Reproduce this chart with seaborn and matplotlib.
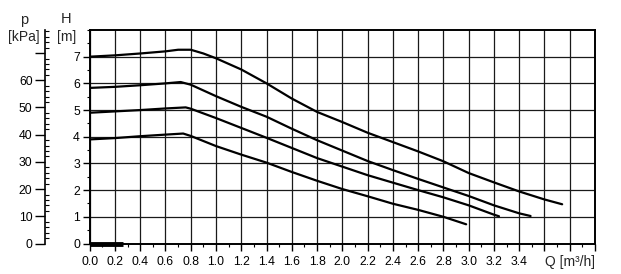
import numpy as np
import pandas as pd
import matplotlib
matplotlib.use("Agg")
import matplotlib.pyplot as plt
import seaborn as sns
from matplotlib.ticker import MultipleLocator, FixedLocator

# ---- data (Q in m3/h, H in m) ----
q1 = [0, 0.2, 0.4, 0.6, 0.7, 0.8, 0.9, 1.0, 1.2, 1.4, 1.6, 1.8, 2.0, 2.2, 2.4, 2.6, 2.8, 3.0, 3.2, 3.4, 3.6, 3.74]
h1 = [7.0, 7.05, 7.12, 7.2, 7.26, 7.26, 7.12, 6.94, 6.52, 6.0, 5.43, 4.93, 4.55, 4.15, 3.8, 3.45, 3.08, 2.64, 2.29, 1.95, 1.65, 1.47]

q2 = [0, 0.2, 0.4, 0.6, 0.72, 0.8, 1.0, 1.2, 1.4, 1.6, 1.8, 2.0, 2.2, 2.4, 2.6, 2.8, 3.0, 3.2, 3.4, 3.49]
h2 = [5.83, 5.87, 5.93, 6.0, 6.05, 5.95, 5.52, 5.12, 4.75, 4.3, 3.87, 3.48, 3.09, 2.75, 2.42, 2.1, 1.78, 1.43, 1.13, 1.03]

q3 = [0, 0.2, 0.4, 0.6, 0.76, 0.8, 1.0, 1.2, 1.4, 1.6, 1.8, 2.0, 2.2, 2.4, 2.6, 2.8, 3.0, 3.2, 3.24]
h3 = [4.9, 4.95, 5.0, 5.06, 5.1, 5.05, 4.7, 4.33, 3.96, 3.58, 3.2, 2.88, 2.56, 2.28, 2.0, 1.73, 1.43, 1.08, 1.02]

q4 = [0, 0.2, 0.4, 0.6, 0.74, 0.8, 1.0, 1.2, 1.4, 1.6, 1.8, 2.0, 2.2, 2.4, 2.6, 2.8, 2.98]
h4 = [3.9, 3.95, 4.02, 4.08, 4.12, 4.03, 3.65, 3.33, 3.03, 2.68, 2.35, 2.04, 1.77, 1.49, 1.26, 1.0, 0.72]

bar_q = [0.0, 0.26]
bar_h = [0.0, 0.0]

x_ticks = [0.0, 0.2, 0.4, 0.6, 0.8, 1.0, 1.2, 1.4, 1.6, 1.8, 2.0, 2.2, 2.4, 2.6, 2.8, 3.0, 3.2, 3.4, 3.6, 3.8, 4.0]
x_labels = ["0.0", "0.2", "0.4", "0.6", "0.8", "1.0", "1.2", "1.4", "1.6", "1.8", "2.0",
            "2.2", "2.4", "2.6", "2.8", "3.0", "3.2", "3.4", "", "", ""]
h_ticks = [0, 1, 2, 3, 4, 5, 6, 7]
h_labels = ["0", "1", "2", "3", "4", "5", "6", "7"]
p_ticks = [0, 10, 20, 30, 40, 50, 60, 70]
p_labels = ["0", "10", "20", "30", "40", "50", "60", ""]

df = pd.concat([
    pd.DataFrame({"Q": q, "H": h, "curve": name})
    for q, h, name in [(q1, h1, "c1"), (q2, h2, "c2"), (q3, h3, "c3"), (q4, h4, "c4")]
], ignore_index=True)

sns.set_theme(style="white")
plt.rcParams['font.family'] = ['Liberation Sans', 'DejaVu Sans']
plt.rcParams['xtick.color'] = 'black'
plt.rcParams['ytick.color'] = 'black'
plt.rcParams['lines.solid_joinstyle'] = 'round'

W, Hh = 621, 274
fig = plt.figure(figsize=(W / 100, Hh / 100), dpi=100)
fig.patch.set_facecolor('white')

left, right, top, bottom = 89.7, 595, 30, 243.5
ax = fig.add_axes([left / W, 1 - bottom / Hh, (right - left) / W, (bottom - top) / Hh])

sns.lineplot(data=df, x="Q", y="H", hue="curve", palette=["black"] * 4, sort=False,
             estimator=None, lw=1.6, legend=False, ax=ax, zorder=3)
ax.plot(bar_q, bar_h, color="black", lw=3.5, solid_capstyle="butt", zorder=4, clip_on=False)

ax.set_xlim(0, 4.0)
ax.set_ylim(0, 8)
ax.xaxis.set_major_locator(FixedLocator(x_ticks))
ax.set_xticklabels(x_labels)
ax.xaxis.set_minor_locator(MultipleLocator(0.1))
ax.yaxis.set_major_locator(FixedLocator(h_ticks))
ax.set_yticklabels(h_labels)
ax.yaxis.set_minor_locator(MultipleLocator(0.5))
ax.set_xlabel("")
ax.set_ylabel("")
ax.grid(True, which="major", color="#1a1a1a", lw=0.9)
for s in ax.spines.values():
    s.set_color("black")
    s.set_linewidth(1.4)
ax.tick_params(axis="both", which="major", direction="out", length=5, width=1.0,
               labelsize=8.8, colors="black", pad=2)
ax.tick_params(axis="x", which="major", pad=4)
ax.tick_params(axis="both", which="minor", direction="out", length=2.5, width=0.8, colors="black")
ax.tick_params(axis="x", which="both", bottom=True)
ax.tick_params(axis="y", which="both", left=True)

# pressure axis
pax = fig.add_axes([45 / W, 1 - bottom / Hh, 0.0001, (bottom - top) / Hh])
pax.patch.set_alpha(0)
for k in ["top", "right", "bottom"]:
    pax.spines[k].set_visible(False)
pax.spines["left"].set_color("black")
pax.spines["left"].set_linewidth(1.2)
pax.set_ylim(0, 8 * 9.81)
pax.set_xticks([])
pax.yaxis.set_major_locator(FixedLocator(p_ticks))
pax.set_yticklabels(p_labels)
pax.yaxis.set_minor_locator(MultipleLocator(2))
pax.tick_params(axis="y", which="major", direction="out", length=7, width=1.0,
                labelsize=8.8, colors="black", pad=2, left=True)
pax.tick_params(axis="y", which="minor", direction="in", length=3, width=0.8, colors="black", left=True)

# axis titles
fig.text(24 / W, 1 - 20 / Hh, "p", ha="center", va="center", fontsize=10.5)
fig.text(24 / W, 1 - 36.5 / Hh, "[kPa]", ha="center", va="center", fontsize=10)
fig.text(66 / W, 1 - 19 / Hh, "H", ha="center", va="center", fontsize=10.5)
fig.text(67 / W, 1 - 36.5 / Hh, "[m]", ha="center", va="center", fontsize=10)
fig.text(570 / W, 1 - 262 / Hh, "Q [m\u00b3/h]", ha="center", va="center", fontsize=10)

fig.savefig("out.png", dpi=100, facecolor="white")
